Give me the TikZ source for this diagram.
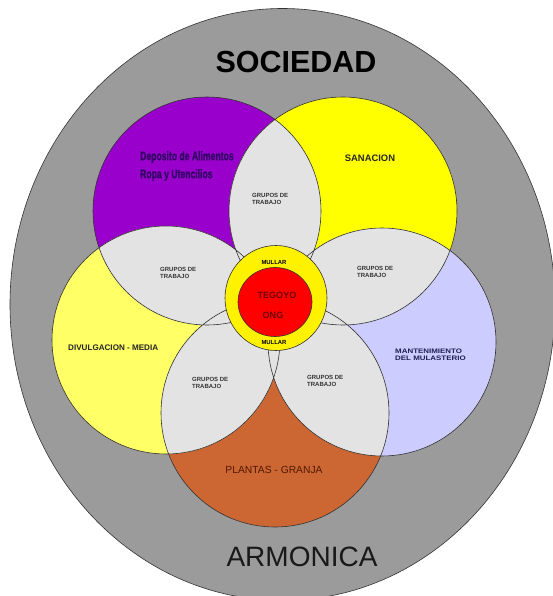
\documentclass[tikz,border=0pt]{standalone}
\usepackage{fontspec}
\setmainfont{Liberation Sans}
\newfontfamily\narrowfont[FakeStretch=0.69,FakeBold=1.3]{Liberation Sans Bold}
\newfontfamily\widefont[FakeStretch=1.22]{Liberation Sans Bold}
\usetikzlibrary{positioning,shapes.geometric}
\definecolor{sociedad}{RGB}{155,155,155}
\definecolor{deposito}{RGB}{153,0,204}
\definecolor{sanacion}{RGB}{255,255,0}
\definecolor{mantenim}{RGB}{204,204,255}
\definecolor{plantas}{RGB}{204,102,51}
\definecolor{divulga}{RGB}{255,255,102}
\definecolor{petalo}{RGB}{227,227,227}

\begin{document}
\begin{tikzpicture}[x=1pt,y=1pt,edge/.style={draw=black!80,line width=0.6pt},grupo/.style={anchor=west,align=left,inner sep=0pt,text=black!80,font=\bfseries\fontsize{6}{7}\selectfont},mullar/.style={inner sep=0pt,font=\bfseries\fontsize{5.9}{6}\selectfont}]
\useasboundingbox (0,0) rectangle (553,-596);
\fill[fill=sociedad,edge] (282.5,-304.5) ellipse [x radius=272.5,y radius=296];
\coordinate (dep) at (207,-211);
\coordinate (san) at (343,-211);
\coordinate (man) at (382,-342);
\coordinate (pla) at (275,-413);
\coordinate (div) at (166,-340);
\fill[deposito] (dep) circle (114);
\fill[sanacion] (san) circle (114);
\fill[mantenim] (man) circle (114);
\fill[plantas] (pla) circle (114);
\fill[divulga] (div) circle (114);
\begin{scope}\clip (dep) circle (114); \fill[petalo] (san) circle (114); \end{scope}
\begin{scope}\clip (san) circle (114); \fill[petalo] (man) circle (114); \end{scope}
\begin{scope}\clip (man) circle (114); \fill[petalo] (pla) circle (114); \end{scope}
\begin{scope}\clip (pla) circle (114); \fill[petalo] (div) circle (114); \end{scope}
\begin{scope}\clip (div) circle (114); \fill[petalo] (dep) circle (114); \end{scope}
\draw[edge] (dep) circle (114) (san) circle (114) (man) circle (114) (pla) circle (114) (div) circle (114);
\node[ellipse,fill=yellow,edge,minimum width=102pt,minimum height=105pt,inner sep=0pt] (anillo) at (276,-298) {};
\node[ellipse,fill=red,edge,minimum width=74pt,minimum height=69pt,inner sep=0pt] (centro) at (275,-302) {};
\node[font=\bfseries\fontsize{30.5}{36}\selectfont] (sociedadT) at (296,-62) {SOCIEDAD};
\node[font=\fontsize{28}{34}\selectfont,text=black!90] (armonica) at (302,-557) {ARMONICA};
\node[anchor=west,align=left,inner sep=0pt,text={rgb,255:red,51;green,0;blue,102},font=\narrowfont\fontsize{12.5}{18}\selectfont] (depositoT) at (140,-166) {Deposito de Alimentos\\Ropa y Utencilios};
\node[font=\bfseries\fontsize{9.4}{11}\selectfont,text=black!85] (sanacionT) at (370,-158) {SANACION};
\node[anchor=west,inner sep=0pt,font=\bfseries\fontsize{8.1}{10}\selectfont,text=black!85] (divulgaT) at (68,-348) {DIVULGACION - MEDIA};
\node[anchor=west,align=left,inner sep=0pt,text={rgb,255:red,31;green,31;blue,80},font=\widefont\fontsize{6.5}{6.7}\selectfont] (mantenimT) at (395,-355) {MANTENIMIENTO\\DEL MULASTERIO};
\node[font=\fontsize{10.3}{12}\selectfont,text={rgb,255:red,80;green,25;blue,0}] (plantasT) at (274,-470) {PLANTAS - GRANJA};
\node[grupo] (grupoN) at (252,-199) {GRUPOS DE\\TRABAJO};
\node[grupo] (grupoO) at (160,-273) {GRUPOS DE\\TRABAJO};
\node[grupo] (grupoE) at (357,-272) {GRUPOS DE\\TRABAJO};
\node[grupo] (grupoSO) at (192,-383) {GRUPOS DE\\TRABAJO};
\node[grupo] (grupoSE) at (307,-381) {GRUPOS DE\\TRABAJO};
\node[mullar] (mullarN) at (274,-262) {MULLAR};
\node[mullar] (mullarS) at (274,-342) {MULLAR};
\node[font=\bfseries\fontsize{9.1}{11}\selectfont,text={rgb,255:red,110;green,0;blue,0}] (tegoyo) at (277,-295) {TEGOYO};
\node[font=\bfseries\fontsize{9.1}{11}\selectfont,text={rgb,255:red,110;green,0;blue,0}] (ong) at (273,-315) {ONG};
\end{tikzpicture}
\end{document}
